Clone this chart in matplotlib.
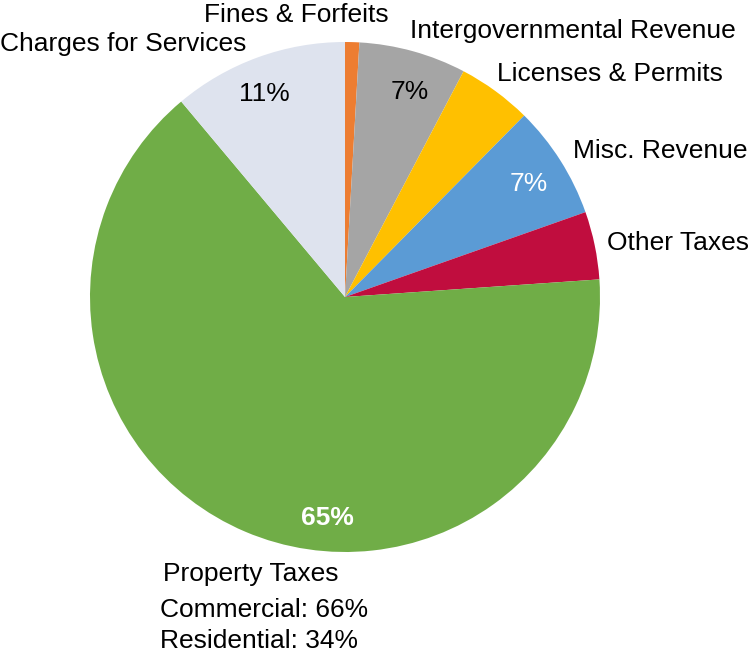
import matplotlib
matplotlib.use("Agg")
import matplotlib.pyplot as plt

plt.rcParams['font.family'] = ['Liberation Sans', 'DejaVu Sans']

categories = ["Fines & Forfeits", "Intergovernmental Revenue", "Licenses & Permits",
              "Misc. Revenue", "Other Taxes", "Property Taxes", "Charges for Services"]
values = [0.9, 6.8, 4.7, 7.2, 4.3, 65.0, 11.1]
pct_labels = ["", "7%", "", "7%", "", "65%", "11%"]
property_breakdown = ["Commercial: 66%", "Residential: 34%"]
colors = ["#ED7D31", "#A5A5A5", "#FFC000", "#5B9BD5", "#C00D3E", "#70AD47", "#DEE3EE"]

fig = plt.figure(figsize=(7.54, 6.55), dpi=100)
ax = fig.add_axes([90/754, 103/655, 510/754, 510/655])
ax.pie(values, colors=colors, startangle=90, counterclock=False, radius=1.0,
       wedgeprops=dict(linewidth=0))
ax.set_xlim(-1, 1)
ax.set_ylim(-1, 1)
ax.set_aspect('equal')
ax.axis('off')

fs = 19
# category labels
label_pos = {
    "Fines & Forfeits": (-0.192, 1.106, 'center'),
    "Intergovernmental Revenue": (0.255, 1.045, 'left'),
    "Licenses & Permits": (0.596, 0.876, 'left'),
    "Misc. Revenue": (0.894, 0.574, 'left'),
    "Other Taxes": (1.027, 0.210, 'left'),
    "Property Taxes": (-0.714, -1.088, 'left'),
    "Charges for Services": (-0.386, 0.994, 'right'),
}
for c in categories:
    x, y, ha = label_pos[c]
    ax.text(x, y, c, ha=ha, va='center', fontsize=fs, color='black', clip_on=False)

ax.text(-0.725, -1.228, property_breakdown[0], ha='left', va='center', fontsize=fs, clip_on=False)
ax.text(-0.725, -1.349, property_breakdown[1], ha='left', va='center', fontsize=fs, clip_on=False)

# percentage labels
pct_pos = {
    "Intergovernmental Revenue": ((0.255, 0.802), 'black', 'normal'),
    "Misc. Revenue": ((0.722, 0.445), 'white', 'normal'),
    "Property Taxes": ((-0.067, -0.868), 'white', 'bold'),
    "Charges for Services": ((-0.318, 0.798), 'black', 'normal'),
}
for c, p in zip(categories, pct_labels):
    if p:
        (x, y), col, w = pct_pos[c]
        ax.text(x, y, p, ha='center', va='center', fontsize=fs, color=col, fontweight=w)

fig.savefig("out.png", dpi=100)
